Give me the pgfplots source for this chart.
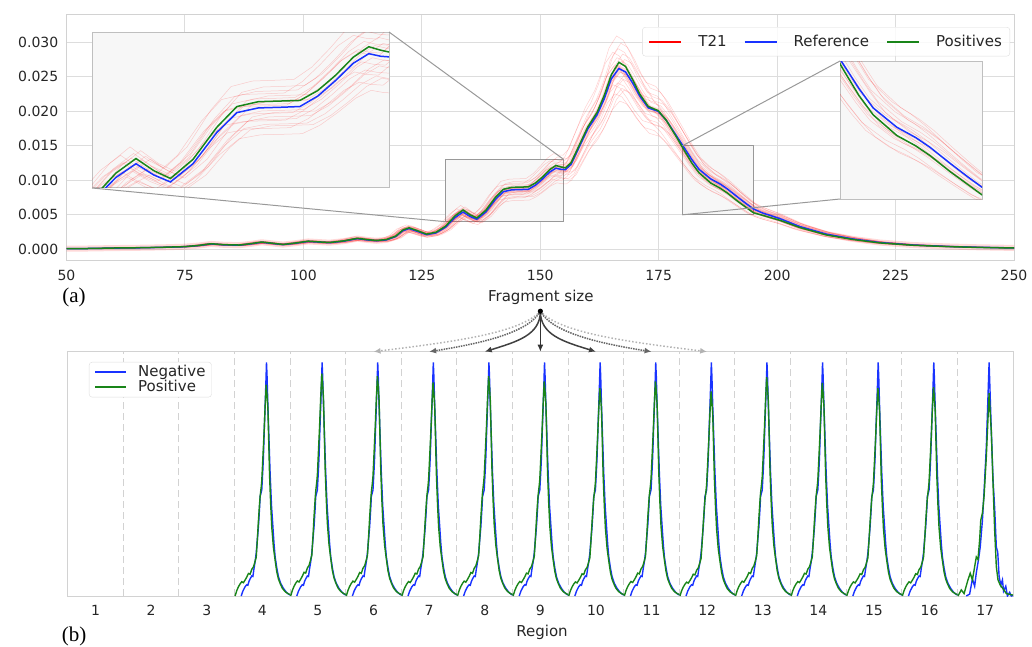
\documentclass[border=0pt]{standalone}
\usepackage{pgfplots}
\pgfplotsset{compat=1.18}
\usepackage{pgfplotstable}
\usepackage{fontspec}
\setmainfont{DejaVu Sans}
\newfontfamily\panelfont{Liberation Serif}
\usetikzlibrary{arrows.meta}

\definecolor{mblue}{rgb}{0.1,0.2,1}
\definecolor{mgreen}{rgb}{0.1,0.52,0.1}
\definecolor{gridgray}{HTML}{DDDDDD}
\definecolor{spine}{HTML}{D2D2D2}
\definecolor{insetbg}{HTML}{F7F7F7}
\definecolor{insetedge}{HTML}{999999}
\definecolor{ticktext}{HTML}{262626}

% fragment size distribution: reference (blue) and positives (green)
\pgfplotstableread{
x ref pos
50 0.00010 0.00010
55 0.00012 0.00012
60 0.00018 0.00019
65 0.00022 0.00023
70 0.00028 0.00029
75 0.00038 0.00039
78 0.00055 0.00057
80.5 0.00078 0.00081
83 0.00066 0.00068
86.5 0.00060 0.00062
89 0.00080 0.00083
91.2 0.00102 0.00106
93.5 0.00085 0.00088
95.7 0.00068 0.00070
98.5 0.00090 0.00093
101 0.00114 0.00118
103.5 0.00104 0.00107
105.5 0.00096 0.00099
108.5 0.00118 0.00122
111.4 0.00155 0.00160
113.5 0.00136 0.00141
115.4 0.00124 0.00128
117.5 0.00136 0.00141
119.5 0.00185 0.00192
121 0.00270 0.00280
122.3 0.00300 0.00312
124 0.00262 0.00272
126 0.00212 0.00220
128 0.00238 0.00248
130 0.00320 0.00335
132 0.00460 0.00485
133.7 0.00540 0.00570
135.2 0.00475 0.00500
136.6 0.00435 0.00455
138.5 0.00540 0.00565
140.5 0.00720 0.00750
142.2 0.00835 0.00870
144 0.00862 0.00898
146 0.00866 0.00902
147.5 0.00870 0.00905
149 0.00930 0.00962
150.5 0.01020 0.01050
152 0.01120 0.01155
153.3 0.01175 0.01215
154.3 0.01160 0.01195
155.3 0.01155 0.01180
156.5 0.01230 0.01255
158 0.01450 0.01475
160 0.01740 0.01770
162 0.01950 0.01985
163.5 0.02180 0.02230
165 0.02470 0.02530
166.6 0.02620 0.02710
168 0.02570 0.02650
169.5 0.02410 0.02460
171 0.02220 0.02250
172.8 0.02050 0.02070
174.9 0.02000 0.02010
176.6 0.01870 0.01870
178.8 0.01640 0.01620
180.5 0.01460 0.01420
182 0.01300 0.01250
183.5 0.01160 0.01110
186 0.01020 0.00960
188 0.00945 0.00885
189.5 0.00875 0.00815
191.6 0.00760 0.00700
193.5 0.00660 0.00605
195 0.00585 0.00530
196.8 0.00530 0.00495
200.6 0.00445 0.00420
204.8 0.00330 0.00315
210.4 0.00220 0.00208
216 0.00150 0.00142
221.7 0.00098 0.00093
228.7 0.00062 0.00059
235.8 0.00042 0.00040
242 0.00030 0.00028
250 0.00020 0.00019
}\fragtab

% peak shape within one region (u = position inside region, 0..1)
\pgfplotstableread{
u y
0.12 0.000
0.15 0.020
0.19 0.038
0.22 0.046
0.24 0.044
0.26 0.060
0.28 0.070
0.31 0.082
0.33 0.080
0.35 0.112
0.37 0.140
0.39 0.175
0.41 0.230
0.43 0.284
0.45 0.360
0.46 0.407
0.48 0.425
0.49 0.434
0.51 0.520
0.52 0.571
0.535 0.680
0.55 0.776
0.565 0.880
0.575 0.956
0.585 0.900
0.60 0.780
0.62 0.640
0.64 0.503
0.665 0.370
0.69 0.284
0.71 0.215
0.73 0.161
0.76 0.115
0.79 0.079
0.83 0.052
0.88 0.031
0.93 0.016
0.97 0.008
1.00 0.004
}\negshape

\pgfplotstableread{
u y
0.01 0.000
0.04 0.022
0.07 0.038
0.10 0.050
0.13 0.059
0.16 0.055
0.19 0.066
0.22 0.078
0.25 0.093
0.28 0.090
0.31 0.110
0.34 0.120
0.36 0.135
0.39 0.160
0.41 0.230
0.43 0.311
0.45 0.380
0.46 0.410
0.48 0.450
0.49 0.475
0.51 0.570
0.53 0.667
0.55 0.780
0.57 0.872
0.585 0.830
0.60 0.776
0.615 0.640
0.63 0.500
0.65 0.380
0.67 0.284
0.70 0.200
0.73 0.148
0.76 0.100
0.79 0.070
0.82 0.052
0.86 0.032
0.91 0.018
0.96 0.010
1.00 0.006
}\posshape

% region 17 is noisier
\pgfplotstableread{
u y
0.16 0.000
0.22 0.008
0.27 0.070
0.31 0.040
0.34 0.095
0.38 0.150
0.41 0.200
0.45 0.310
0.48 0.430
0.52 0.610
0.57 0.956
0.605 0.710
0.64 0.480
0.67 0.360
0.70 0.200
0.725 0.180
0.75 0.080
0.78 0.045
0.81 0.066
0.83 0.020
0.87 0.040
0.90 0.000
0.94 0.015
0.97 0.000
1.00 0.002
}\negseventeen

\pgfplotstableread{
u y
0.01 0.000
0.07 0.025
0.12 0.010
0.19 0.066
0.23 0.093
0.27 0.066
0.31 0.120
0.34 0.160
0.37 0.150
0.40 0.230
0.42 0.310
0.45 0.340
0.48 0.410
0.52 0.570
0.57 0.830
0.61 0.670
0.64 0.465
0.67 0.270
0.70 0.120
0.73 0.066
0.77 0.045
0.82 0.030
0.88 0.010
0.97 0.005
1.00 0.004
}\posseventeen

% faint T21 samples around the reference
\newcommand{\tlines}{%
  \foreach \f/\s in {0.82/0.2, 0.86/-0.8, 0.88/1.1, 0.89/0.6, 0.91/-1.2, 0.92/-0.3,
                     0.94/0.9, 0.96/-0.6, 0.97/1.3, 0.98/0.3, 1.01/-1.1, 1.02/-0.9,
                     1.04/0.5, 1.05/1.2, 1.06/-0.4, 1.08/0.8, 1.09/-1.3, 1.11/-0.2,
                     1.14/0.4, 1.18/-0.5}{%
    \edef\tmp{\noexpand\addplot[red, opacity=0.18, line width=0.5pt, forget plot]
      table[x expr=\noexpand\thisrow{x}+\s, y expr=\noexpand\thisrow{ref}*\f] {\noexpand\fragtab};}%
    \tmp
  }%
  \addplot[mblue, line width=1.5pt, forget plot] table[x=x, y=ref] {\fragtab};
  \addplot[mgreen, line width=1.5pt, forget plot] table[x=x, y=pos] {\fragtab};
}

\pgfplotsset{
  base/.style={
    scale only axis, anchor=north west,
    /pgf/number format/assume math mode=true,
    tick label style={font=\fontsize{14}{16}\selectfont, text=ticktext},
    major tick length=0pt,
    axis line style={spine, line width=1pt},
  },
}

\begin{document}
\begin{tikzpicture}
\useasboundingbox (0pt,0pt) rectangle (1032pt,-646pt);

% ---------------- (a) ----------------
\begin{axis}[base, name=main,
  at={(66.5pt,-14pt)}, width=947.5pt, height=246pt,
  xmin=50, xmax=250, ymin=-0.00155, ymax=0.0341,
  xtick={50,75,...,250},
  ytick={0,0.005,0.01,0.015,0.02,0.025,0.03},
  scaled y ticks=false,
  y tick label style={/pgf/number format/fixed, /pgf/number format/fixed zerofill,
    /pgf/number format/precision=3, xshift=-4.7pt},
  x tick label style={yshift=-7pt},
  grid=major, major grid style={gridgray, line width=1pt},
  legend columns=3,
  legend style={at={(rel axis cs:0.9958,0.947)}, anchor=north east,
    draw=gridgray, rounded corners=3pt, fill=white, fill opacity=0.85, text opacity=1,
    font=\fontsize{15}{17}\selectfont, text=ticktext, inner xsep=6pt, inner ysep=6pt,
    /tikz/every odd column/.append style={column sep=14pt},
    /tikz/every even column/.append style={column sep=15pt}},
]
  \draw[fill=insetbg, draw=insetedge, line width=1pt] (axis cs:130,0.004) rectangle (axis cs:155,0.013);
  \draw[fill=insetbg, draw=insetedge, line width=1pt] (axis cs:180,0.005) rectangle (axis cs:195,0.015);
  \addplot[red, opacity=0.15, line width=6pt, forget plot] table[x=x, y=ref] {\fragtab};
  \tlines
  \addlegendimage{legend image code/.code={\draw[red, line width=2pt] (0pt,0pt) -- (32pt,0pt);}}
  \addlegendentry{T21}
  \addlegendimage{legend image code/.code={\draw[mblue, line width=2pt] (0pt,0pt) -- (32pt,0pt);}}
  \addlegendentry{Reference}
  \addlegendimage{legend image code/.code={\draw[mgreen, line width=2pt] (0pt,0pt) -- (32pt,0pt);}}
  \addlegendentry{Positives}
  \coordinate (a1) at (axis cs:155,0.013);
  \coordinate (a2) at (axis cs:130,0.004);
  \coordinate (b1) at (axis cs:180,0.015);
  \coordinate (b2) at (axis cs:180,0.005);
\end{axis}

% zoom insets
\begin{axis}[base, name=insL, at={(92pt,-32pt)}, width=297pt, height=156pt,
  xmin=130, xmax=155, ymin=0.004, ymax=0.013, xtick=\empty, ytick=\empty,
  axis background/.style={fill=insetbg}, axis line style={gray!50}]
  \tlines
\end{axis}
\begin{axis}[base, name=insR, at={(840pt,-61pt)}, width=142pt, height=138pt,
  xmin=180, xmax=195, ymin=0.005, ymax=0.015, xtick=\empty, ytick=\empty,
  axis background/.style={fill=insetbg}, axis line style={gray!50}]
  \tlines
\end{axis}
\draw[insetedge, line width=1pt] (a1) -- (insL.north east);
\draw[insetedge, line width=1pt] (a2) -- (insL.south west);
\draw[insetedge, line width=1pt] (b1) -- (insR.north west);
\draw[insetedge, line width=1pt] (b2) -- (insR.south west);

\node[anchor=base, font=\fontsize{15}{18}\selectfont, text=ticktext] at (540.8pt,-301.6pt) {Fragment size};
\node[anchor=base, font=\panelfont\fontsize{21}{24}\selectfont] at (74pt,-302pt) {(a)};

% ---------------- (b) ----------------
\begin{axis}[base, name=bot,
  at={(67.7pt,-351.7pt)}, width=945.3pt, height=244.3pt,
  xmin=0.5, xmax=17.5, ymin=0, ymax=1,
  xtick={1,...,17}, ytick=\empty,
  x tick label style={yshift=-6pt},
  extra x ticks={1.5,2.5,...,16.5}, extra x tick labels={},
  extra x tick style={grid=major, major grid style={spine, dash pattern=on 7pt off 4pt, line width=1pt}},
  legend cell align=left,
  legend style={at={(rel axis cs:0.0225,0.958)}, anchor=north west,
    draw=gridgray, rounded corners=3pt, fill=white, text=ticktext,
    font=\fontsize{15}{17}\selectfont, inner xsep=5pt, inner ysep=3pt,
    nodes={inner sep=1pt, text height=10pt, text depth=2pt}, row sep=1pt,
    /tikz/every odd column/.append style={column sep=10pt}},
]
  \foreach \k/\g in {4/0.865, 5/0.910, 6/0.900, 7/0.874, 8/0.900, 9/0.878, 10/0.851,
                     11/0.878, 12/0.837, 13/0.896, 14/0.872, 15/0.851, 16/0.855}{%
    \edef\tmp{\noexpand\addplot[mblue, line width=1.4pt, forget plot]
        table[x expr=\noexpand\thisrow{u}+\k-0.5, y=y] {\noexpand\negshape};
      \noexpand\addplot[mgreen, line width=1.4pt, forget plot]
        table[x expr=\noexpand\thisrow{u}+\k-0.5, y expr=\noexpand\thisrow{y}*\g/0.872] {\noexpand\posshape};}%
    \tmp
  }
  \addplot[mblue, line width=1.4pt, forget plot] table[x expr=\thisrow{u}+16.5, y=y] {\negseventeen};
  \addplot[mgreen, line width=1.4pt, forget plot] table[x expr=\thisrow{u}+16.5, y=y] {\posseventeen};
  \addlegendimage{legend image code/.code={\draw[mblue, line width=2pt] (0pt,0pt) -- (31pt,0pt);}}
  \addlegendentry{Negative}
  \addlegendimage{legend image code/.code={\draw[mgreen, line width=2pt] (0pt,0pt) -- (31pt,0pt);}}
  \addlegendentry{Positive}
  \coordinate (t6) at (axis cs:6,1);
  \coordinate (t7) at (axis cs:7,1);
  \coordinate (t8) at (axis cs:8,1);
  \coordinate (t9) at (axis cs:9,1);
  \coordinate (t10) at (axis cs:10,1);
  \coordinate (t11) at (axis cs:11,1);
  \coordinate (t12) at (axis cs:12,1);
\end{axis}

\node[anchor=base, font=\fontsize{15}{18}\selectfont, text=ticktext] at (542pt,-636pt) {Region};
\node[anchor=base, font=\panelfont\fontsize{21}{24}\selectfont] at (74pt,-641pt) {(b)};

% arrows from the fragment-size axis to the regions
\coordinate (src) at ([yshift=40.5pt]t9);
\begin{scope}[line width=1.5pt, -{Latex[length=7pt,width=6pt]}]
  \draw[black!80] (src) -- (t9);
  \draw[black!75] (src) .. controls +(0pt,-24pt) and +(32pt,10pt) .. (t8);
  \draw[black!75] (src) .. controls +(0pt,-24pt) and +(-32pt,10pt) .. (t10);
  \draw[black!60, densely dotted] (src) .. controls +(-12pt,-22pt) and +(50pt,8pt) .. (t7);
  \draw[black!60, densely dotted] (src) .. controls +(12pt,-22pt) and +(-50pt,8pt) .. (t11);
  \draw[black!30, dotted] (src) .. controls +(-20pt,-22pt) and +(80pt,10pt) .. (t6);
  \draw[black!30, dotted] (src) .. controls +(20pt,-22pt) and +(-80pt,10pt) .. (t12);
\end{scope}
\fill[black] (src) circle (2.6pt);
\end{tikzpicture}
\end{document}
